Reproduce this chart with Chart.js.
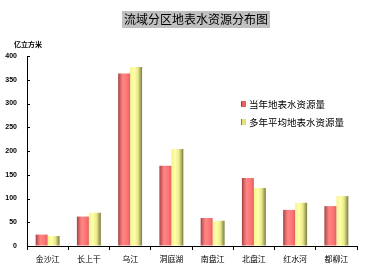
<!DOCTYPE html>
<html>
<head>
<meta charset="utf-8">
<script src="https://cdn.jsdelivr.net/npm/chart.js@4"></script>
<style>
  html, body { margin: 0; padding: 0; background: #fff; }
  #wrap { width: 392px; height: 277px; position: relative; }
</style>
</head>
<body>
<div id="wrap"><canvas id="waterChart"></canvas></div>
<script>
// categories and values (亿立方米)
const categories = ['金沙江', '长上干', '乌江', '洞庭湖', '南盘江', '北盘江', '红水河', '都柳江'];
const currentYear = [24, 62, 363, 169, 59, 143, 76, 84];
const longTermAvg = [21, 70, 377, 204, 53, 122, 91, 105];
const seriesNames = ['当年地表水资源量', '多年平均地表水资源量'];
const yTicks = [0, 50, 100, 150, 200, 250, 300, 350, 400];

const CAT_PCT = 0.58;
const CJK = '"Noto Sans CJK SC", sans-serif';

// cylinder-like shading across each bar
function barFill(stops, fallback) {
    return function (c) {
        const chart = c.chart;
        const xs = chart.scales && chart.scales.x;
        if (!xs || xs.left == null || c.dataIndex == null) return fallback;
        const cat = (xs.right - xs.left) / categories.length;
        const w = cat * CAT_PCT / 2;
        const cx = xs.getPixelForValue(c.dataIndex) + (c.datasetIndex - 0.5) * w;
        const g = chart.ctx.createLinearGradient(cx - w / 2, 0, cx + w / 2, 0);
        stops.forEach(s => g.addColorStop(s[0], s[1]));
        return g;
    };
}

const redStops = [[0, '#9c4040'], [0.18, '#d86464'], [0.4, '#ff8686'], [0.75, '#ff7474'], [1, '#e06262']];
const yellowStops = [[0, '#f4f490'], [0.35, '#ffffa8'], [0.65, '#e8e88c'], [1, '#7c7c40']];

// title box, unit, legend and inward y ticks
const decor = {
    id: 'decor',
    afterDraw(chart) {
        const ctx = chart.ctx;
        const ys = chart.scales.y;
        ctx.save();

        // inward ticks on the value axis
        ctx.strokeStyle = '#000';
        ctx.lineWidth = 1;
        yTicks.forEach(v => {
            const py = Math.round(ys.getPixelForValue(v)) + 0.5;
            ctx.beginPath();
            ctx.moveTo(ys.right, py);
            ctx.lineTo(ys.right + 3, py);
            ctx.stroke();
        });

        // title
        ctx.fillStyle = '#c0c0c0';
        ctx.fillRect(122, 11, 148, 17);
        ctx.fillStyle = '#000';
        ctx.font = '12px ' + CJK;
        ctx.textAlign = 'center';
        ctx.textBaseline = 'middle';
        ctx.fillText('流域分区地表水资源分布图', 196, 19.5);

        // unit
        ctx.font = 'bold 7px ' + CJK;
        ctx.textAlign = 'left';
        ctx.fillText('亿立方米', 14, 44);

        // legend
        const marks = [['#e86060', '#a04040'], ['#e8e070', '#808040']];
        ctx.font = '9.5px ' + CJK;
        seriesNames.forEach((name, i) => {
            const ly = 104 + i * 18;
            ctx.fillStyle = marks[i][0];
            ctx.fillRect(241, ly - 3, 5, 6);
            ctx.fillStyle = marks[i][1];
            ctx.fillRect(241, ly - 3, 1, 6);
            ctx.fillStyle = '#000';
            ctx.fillText(name, 249, ly);
        });
        ctx.restore();
    }
};

const ctxWater = document.getElementById('waterChart').getContext('2d');
const waterChart = new Chart(ctxWater, {
    type: 'bar',
    data: {
        labels: categories,
        datasets: [{
            label: seriesNames[0],
            data: currentYear,
            backgroundColor: barFill(redStops, '#ff7474'),
            borderWidth: 0,
            categoryPercentage: CAT_PCT,
            barPercentage: 1
        }, {
            label: seriesNames[1],
            data: longTermAvg,
            backgroundColor: barFill(yellowStops, '#f0f090'),
            borderWidth: 0,
            categoryPercentage: CAT_PCT,
            barPercentage: 1
        }]
    },
    options: {
        responsive: true,
        maintainAspectRatio: false,
        animation: false,
        layout: { padding: { top: 56, right: 35, left: 0, bottom: 0 } },
        plugins: {
            legend: { display: false },
            tooltip: { enabled: false }
        },
        scales: {
            x: {
                grid: { offset: true, drawOnChartArea: false, tickLength: 4, color: '#000' },
                border: { color: '#000' },
                ticks: { color: '#000', font: { family: CJK, size: 8 }, padding: 4, maxRotation: 0 },
                afterFit(s) { s.height = 31; }
            },
            y: {
                min: 0,
                max: 400,
                grid: { drawOnChartArea: false, drawTicks: false },
                border: { color: '#000' },
                ticks: {
                    stepSize: 50,
                    color: '#000',
                    padding: 10,
                    font: { family: '"Liberation Sans", sans-serif', size: 7, weight: 'bold' }
                },
                afterFit(s) { s.width = 27; }
            }
        }
    },
    plugins: [decor]
});
</script>
</body>
</html>
